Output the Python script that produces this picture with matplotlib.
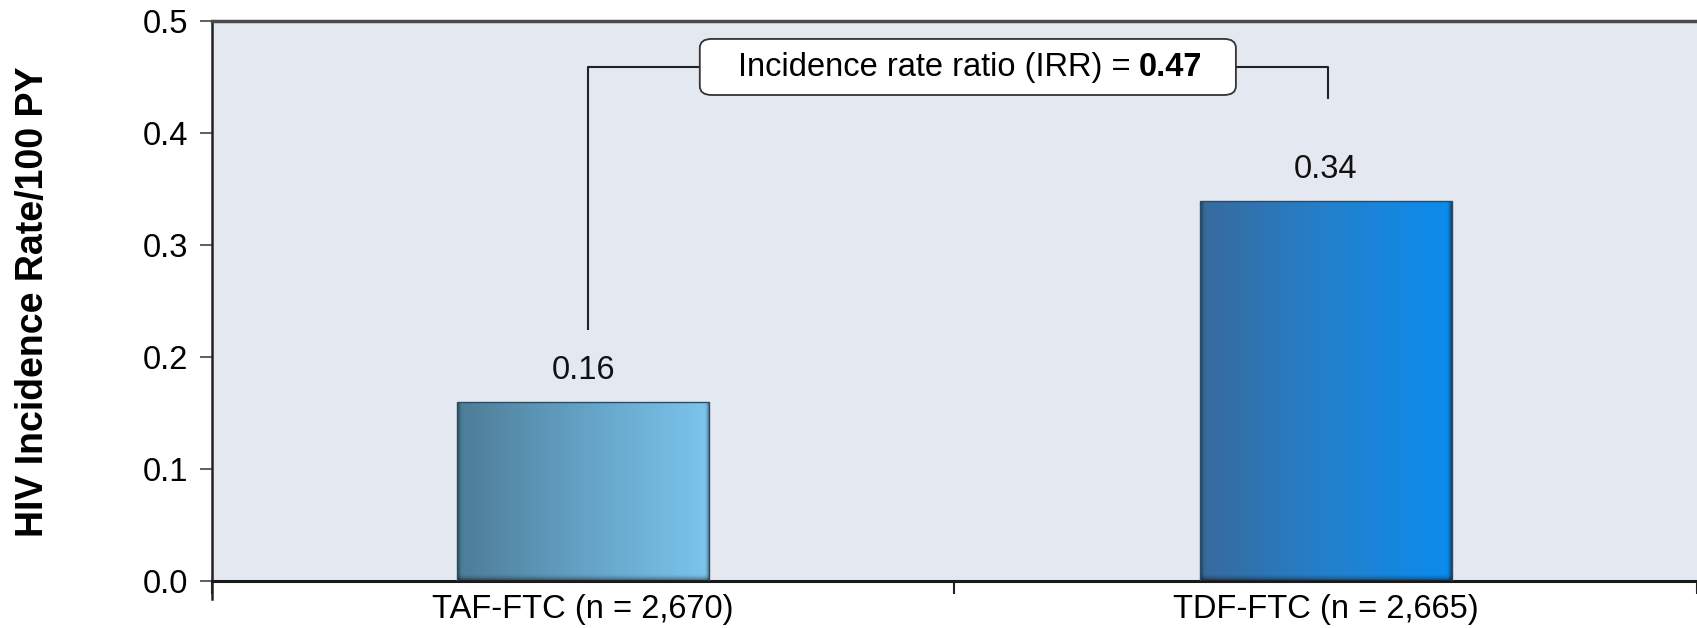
import numpy as np
import matplotlib
matplotlib.use("Agg")
import matplotlib.pyplot as plt
from matplotlib.colors import LinearSegmentedColormap
from matplotlib.patches import FancyBboxPatch

plt.rcParams['font.family'] = ['Liberation Sans', 'DejaVu Sans']

# data
groups = ['TAF-FTC (n = 2,670)', 'TDF-FTC (n = 2,665)']
incidence = [0.16, 0.34]
value_labels = ['0.16', '0.34']
irr_text = 'Incidence rate ratio (IRR) ='
irr_value = '0.47'
yticks = [0.0, 0.1, 0.2, 0.3, 0.4, 0.5]

# left->right gradient colours for each bar
bar_gradients = [
    ['#4d7c96', '#64a2c6', '#7cc5ec'],
    ['#386a9c', '#2480cc', '#0a8cee'],
]

FS = 23.5

fig = plt.figure(figsize=(16.97, 6.28), dpi=100)
ax = fig.add_axes([0.1249, 0.0748, 0.8751, 0.891])
ax.set_facecolor('#e4e9f1')

x = np.arange(len(groups))
bar_w = 0.34
bars = ax.bar(x, incidence, width=bar_w, color='none',
              edgecolor='#33495e', linewidth=1.0, zorder=3)

# fill every bar with a horizontal gradient clipped to its rectangle
grad = np.linspace(0, 1, 256).reshape(1, -1)
shade = LinearSegmentedColormap.from_list('s', [(0, 0, 0, 0.0), (0, 0, 0, 0.55)])
ramp = np.linspace(0, 1, 64) ** 2
for rect, cols in zip(bars, bar_gradients):
    cmap = LinearSegmentedColormap.from_list('g', cols)
    x0, w, h = rect.get_x(), rect.get_width(), rect.get_height()
    im = ax.imshow(grad, cmap=cmap, aspect='auto', extent=(x0, x0 + w, 0, h),
                   zorder=2, interpolation='bilinear')
    im.set_clip_path(rect)
    # soft darker rim on the sides and bottom for a bevelled look
    dx = w * 0.022
    dy = 0.007
    rims = [((x0, x0 + dx, 0, h), ramp[::-1].reshape(1, -1)),
            ((x0 + w - dx, x0 + w, 0, h), ramp.reshape(1, -1)),
            ((x0, x0 + w, 0, dy), ramp.reshape(-1, 1))]
    for ext, arr in rims:
        e = ax.imshow(arr, cmap=shade, aspect='auto', extent=ext, zorder=2.5,
                      vmin=0, vmax=1, interpolation='bilinear')
        e.set_clip_path(rect)

for xi, v, lab in zip(x, incidence, value_labels):
    ax.text(xi, v + 0.014, lab, ha='center', va='bottom', fontsize=FS, color='#111111')

ax.set_xlim(-0.5, 1.5)
ax.set_ylim(0, 0.5)
ax.set_yticks(yticks)
ax.set_yticklabels([f'{t:.1f}' for t in yticks], fontsize=FS)
ax.set_xticks([-0.5, 0.5, 1.5], minor=False)
ax.set_xticklabels([])
ax.set_xticks(x, minor=True)
ax.set_xticklabels(groups, minor=True, fontsize=FS)
ax.tick_params(axis='x', which='minor', length=0, pad=9)
ax.tick_params(axis='x', which='major', length=9, width=1.5, direction='out', color='#222222')
ax.tick_params(axis='y', length=9, width=1.2, direction='out', color='#444444', pad=8)

ax.set_ylabel('HIV Incidence Rate/100 PY', fontsize=27, fontweight='bold', labelpad=66)

ax.spines['right'].set_visible(False)
ax.spines['top'].set_color('#4a4a4a')
ax.spines['top'].set_linewidth(2.5)
ax.spines['left'].set_linewidth(1.8)
ax.spines['left'].set_color('#222222')
ax.spines['left'].set_bounds(-0.016, 0.5)
ax.spines['bottom'].set_linewidth(2.2)
ax.spines['bottom'].set_color('#1a1a1a')

# bracket connecting the two bars through the IRR box
y_br = 0.4593
box_left, box_right = 0.157, 0.879
ax.plot([x[0] + 0.006, x[0] + 0.006, box_left], [0.224, y_br, y_br],
        color='#222222', lw=1.5, zorder=4, solid_capstyle='butt')
ax.plot([box_right, x[1] + 0.003, x[1] + 0.003], [y_br, y_br, 0.431],
        color='#222222', lw=1.5, zorder=4, solid_capstyle='butt')

box = FancyBboxPatch((box_left, 0.4343), box_right - box_left, 0.0501,
                     boxstyle='round,pad=0,rounding_size=0.016',
                     mutation_aspect=0.5,
                     facecolor='white', edgecolor='#333333', linewidth=1.3, zorder=5)
ax.add_patch(box)

tx = 0.737
t1 = ax.text(tx, y_br, irr_text, ha='right', va='center', fontsize=FS, zorder=6)
ax.annotate(irr_value, xy=(1, 0), xycoords=t1, xytext=(6, 0),
            textcoords='offset points', ha='left', va='bottom', fontsize=FS,
            fontweight='bold', zorder=6)

fig.savefig('out.png', dpi=100)
